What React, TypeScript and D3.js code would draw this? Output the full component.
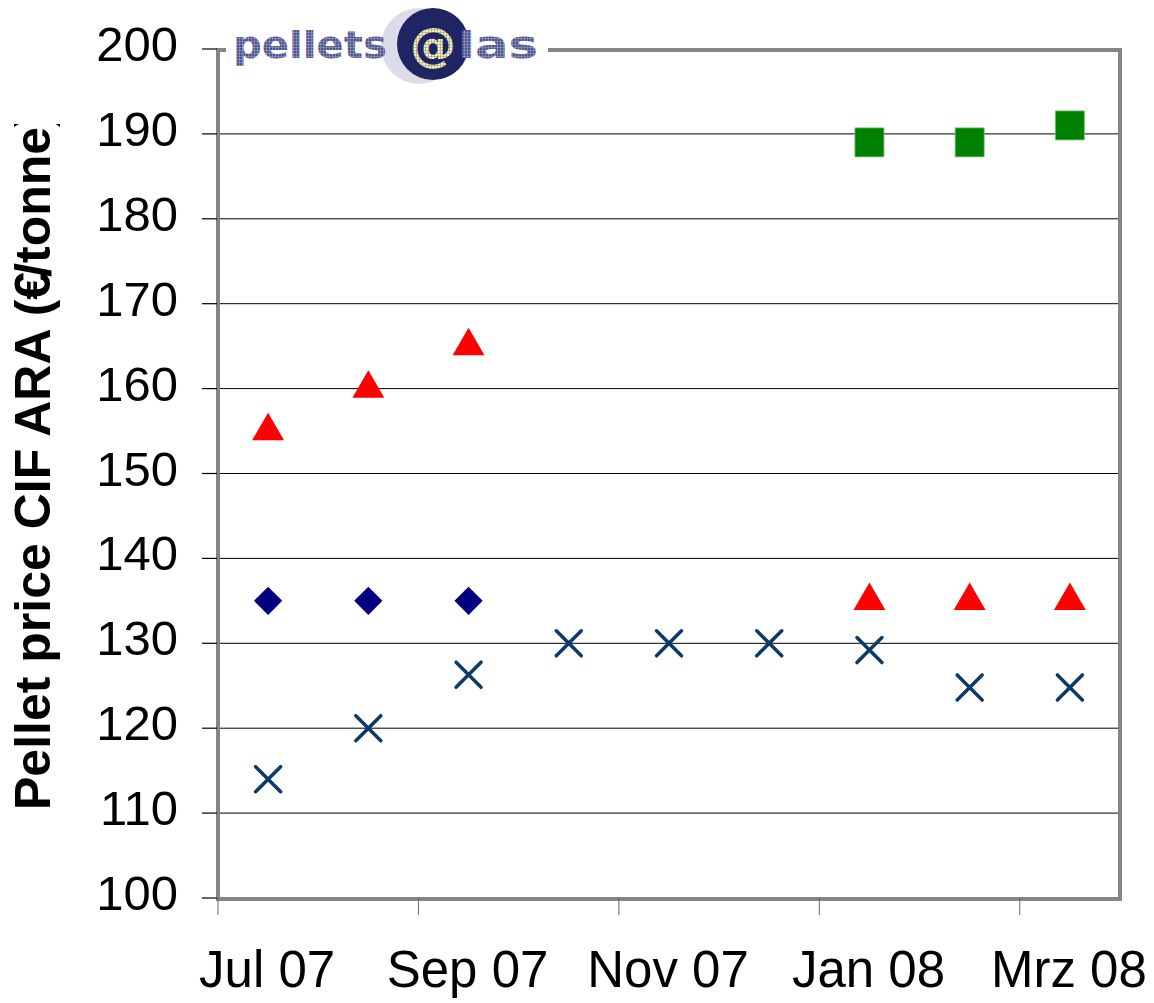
import React from "react";
import * as d3 from "d3";

// months on the category axis
const months = ["Jul 07", "Aug 07", "Sep 07", "Okt 07", "Nov 07", "Dez 07", "Jan 08", "Feb 08", "Mrz 08"];
const tickLabels = ["Jul 07", "Sep 07", "Nov 07", "Jan 08", "Mrz 08"];
const yTicks = [100, 110, 120, 130, 140, 150, 160, 170, 180, 190, 200];

// series (null = no point)
const diamondSeries = [135, 135, 135, null, null, null, null, null, null];
const triangleSeries = [155, 160, 165, null, null, null, 135, 135, 135];
const squareSeries = [null, null, null, null, null, null, 189, 189, 191];
const crossSeries = [114, 120, 126.3, 130, 130, 130, 129.2, 124.8, 124.8];

const W = 1154;
const H = 1003;
const plot = { left: 218, right: 1120, top: 49, bottom: 898 };
const font = "'Liberation Sans', Arial, Helvetica, sans-serif";

export default function App() {
  const x = d3.scaleBand<string>().domain(months).range([plot.left, plot.right]);
  const y = d3.scaleLinear().domain([100, 200]).range([plot.bottom, plot.top]);
  const cx = (m: string) => (x(m) as number) + x.bandwidth() / 2;

  const square = d3.symbol().type(d3.symbolSquare).size(841)()!;
  const diamond = d3.symbol().type(d3.symbolSquare).size(400)()!;
  const triangle = d3.symbol().type(d3.symbolTriangle).size(440)()!;
  const cross = d3.path();
  cross.moveTo(-12.5, -12.5); cross.lineTo(12.5, 12.5);
  cross.moveTo(12.5, -12.5); cross.lineTo(-12.5, 12.5);

  const pts = (s: (number | null)[]) =>
    s.map((v, i) => ({ m: months[i], v })).filter(d => d.v !== null) as { m: string; v: number }[];

  return (
    <svg width={W} height={H} style={{ position: "absolute", left: 0, top: 0, background: "#fff" }}>
      <defs>
        <pattern id="pixBlue" width="3" height="3" patternUnits="userSpaceOnUse">
          <rect width="3" height="3" fill="#4f548f" />
          <path d="M2.5,0V3M0,2.5H3" stroke="#9496bd" strokeWidth="0.7" />
        </pattern>
        <pattern id="pixYellow" width="3" height="3" patternUnits="userSpaceOnUse">
          <rect width="3" height="3" fill="#f6f2c0" />
          <path d="M2.5,0V3M0,2.5H3" stroke="#a9a67e" strokeWidth="0.7" />
        </pattern>
        <clipPath id="titleClip">
          <rect x={0} y={124} width={120} height={H} />
        </clipPath>
      </defs>

      {/* gridlines */}
      {yTicks.filter(t => t > 100 && t < 200).map(t => (
        <line key={t} x1={plot.left} x2={plot.right} y1={y(t)} y2={y(t)} stroke="#000" strokeWidth={1} />
      ))}

      {/* plot frame */}
      <rect x={plot.left} y={plot.top + 1} width={plot.right - plot.left} height={plot.bottom - plot.top}
        fill="none" stroke="#858585" strokeWidth={4} />

      {/* y ticks + labels */}
      {yTicks.map(t => (
        <g key={t}>
          <line x1={202} x2={plot.left - 1} y1={y(t)} y2={y(t)} stroke="#000" strokeWidth={1.2} />
          <text x={178} y={y(t) + 12} textAnchor="end" fontFamily={font} fontSize={49} fill="#000">{t}</text>
        </g>
      ))}

      {/* x ticks + labels */}
      {months.map((m, i) => i % 2 === 0 ? (
        <line key={m} x1={x(m) as number} x2={x(m) as number} y1={plot.bottom} y2={915} stroke="#666" strokeWidth={1} />
      ) : null)}
      {tickLabels.map(l => (
        <text key={l} x={cx(months.find(m => m.slice(0, 3) === l.slice(0, 3))!) - 1} y={987} textAnchor="middle"
          fontFamily={font} fontSize={51} fill="#000">{l}</text>
      ))}

      {/* axis title */}
      <g clipPath="url(#titleClip)">
        <text transform="translate(50,810) rotate(-90)" fontFamily={font} fontWeight="bold" fontSize={50} fill="#000">
          Pellet price CIF ARA (€<tspan dx="-0.1em">/</tspan>tonne)
        </text>
      </g>

      {/* markers */}
      {pts(crossSeries).map(d => (
        <path key={"x" + d.m} d={cross.toString()} transform={`translate(${cx(d.m)},${y(d.v)})`}
          fill="none" stroke="#0b3a68" strokeWidth={3.5} strokeLinecap="round" />
      ))}
      {pts(diamondSeries).map(d => (
        <path key={"d" + d.m} d={diamond} transform={`translate(${cx(d.m)},${y(d.v)}) rotate(45)`} fill="#000080" />
      ))}
      {pts(triangleSeries).map(d => (
        <path key={"t" + d.m} d={triangle} transform={`translate(${cx(d.m)},${y(d.v)})`} fill="#ff0000" />
      ))}
      {pts(squareSeries).map(d => (
        <path key={"s" + d.m} d={square} transform={`translate(${cx(d.m)},${y(d.v)})`} fill="#008000"
          stroke="#6fbf6f" strokeWidth={0.8} />
      ))}

      {/* pellets@las logo */}
      <rect x={226} y={0} width={322} height={86} fill="#fff" />
      <circle cx={419} cy={46} r={38} fill="#dcdce9" />
      <circle cx={433} cy={44} r={36} fill="#1f2563" />
      <text x={233} y={58} fontFamily="'DejaVu Sans', sans-serif" fontWeight="bold" fontSize={38}
        textLength={154} lengthAdjust="spacingAndGlyphs" fill="url(#pixBlue)">pellets</text>
      <text x={433} y={61} textAnchor="middle" fontFamily="'DejaVu Sans', sans-serif" fontWeight="bold" fontSize={46}
        fill="url(#pixYellow)">@</text>
      <text x={458} y={58} fontFamily="'DejaVu Sans', sans-serif" fontWeight="bold" fontSize={38}
        textLength={80} lengthAdjust="spacingAndGlyphs" fill="url(#pixBlue)">las</text>
    </svg>
  );
}
